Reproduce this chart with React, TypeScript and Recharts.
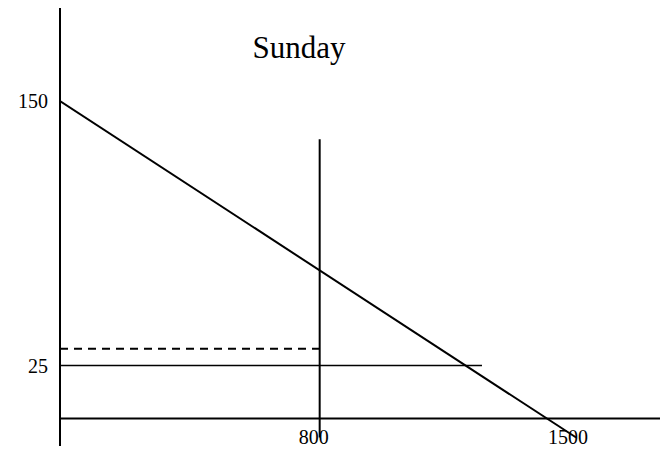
import React from 'react';
import { LineChart, Line, XAxis, YAxis, ReferenceLine } from 'recharts';

// tick labels
const xTicks = [800, 1500];
const yTicks = [25, 150];

// diagram lines, in chart units (quantity, price)
const demandLine = [{ x: 0, y: 150 }, { x: 1590, y: -9 }];
const quantityLine = [{ x: 800, y: -9 }, { x: 800, y: 132 }];
const priceLine = [{ x: 0, y: 25 }, { x: 1300, y: 25 }];
const dashedLine = [{ x: 0, y: 33 }, { x: 800, y: 33 }];

const FONT = '"Liberation Serif", "Times New Roman", serif';

const XTick = (props: any) => {
  const { x, y, payload, index } = props;
  const last = index === xTicks.length - 1;
  return (
    <text
      x={x}
      y={y}
      dx={last ? 1 : -6}
      dy={-2}
      textAnchor={last ? 'start' : 'middle'}
      fontSize={20}
      fontFamily={FONT}
      fill="#000"
    >
      {payload.value}
    </text>
  );
};

const YTick = (props: any) => {
  const { x, y, payload } = props;
  return (
    <text x={x - 12} y={y} dy="0.35em" textAnchor="end" fontSize={20} fontFamily={FONT} fill="#000">
      {payload.value}
    </text>
  );
};

export default function App() {
  return (
    <div style={{ position: 'relative', width: 660, height: 442, fontFamily: FONT }}>
      <div
        style={{
          position: 'absolute',
          left: 191,
          top: 24,
          width: 200,
          textAlign: 'center',
          fontSize: 31,
          lineHeight: 1,
          color: '#000',
        }}
      >
        Sunday
      </div>
      <LineChart width={660} height={442} margin={{ top: 0, right: 1, bottom: 0, left: 0 }}>
        <XAxis
          type="number"
          dataKey="x"
          domain={[0, 1870]}
          ticks={xTicks}
          interval={0}
          height={4}
          tickSize={0}
          tickMargin={0}
          axisLine={false}
          tickLine={false}
          tick={XTick}
          allowDataOverflow
        />
        <YAxis
          type="number"
          dataKey="y"
          domain={[-13, 194]}
          ticks={yTicks}
          interval={0}
          width={52}
          tickSize={0}
          tickMargin={0}
          axisLine={{ stroke: '#000', strokeWidth: 2 }}
          tickLine={false}
          tick={YTick}
          allowDataOverflow
        />
        <ReferenceLine y={0} stroke="#000" strokeWidth={2} />
        <Line data={demandLine} dataKey="y" type="linear" stroke="#000" strokeWidth={2} dot={false} isAnimationActive={false} />
        <Line data={quantityLine} dataKey="y" type="linear" stroke="#000" strokeWidth={2} dot={false} isAnimationActive={false} />
        <Line data={priceLine} dataKey="y" type="linear" stroke="#000" strokeWidth={1.5} dot={false} isAnimationActive={false} />
        <Line data={dashedLine} dataKey="y" type="linear" stroke="#000" strokeWidth={2} strokeDasharray="8 6" dot={false} isAnimationActive={false} />
      </LineChart>
    </div>
  );
}
